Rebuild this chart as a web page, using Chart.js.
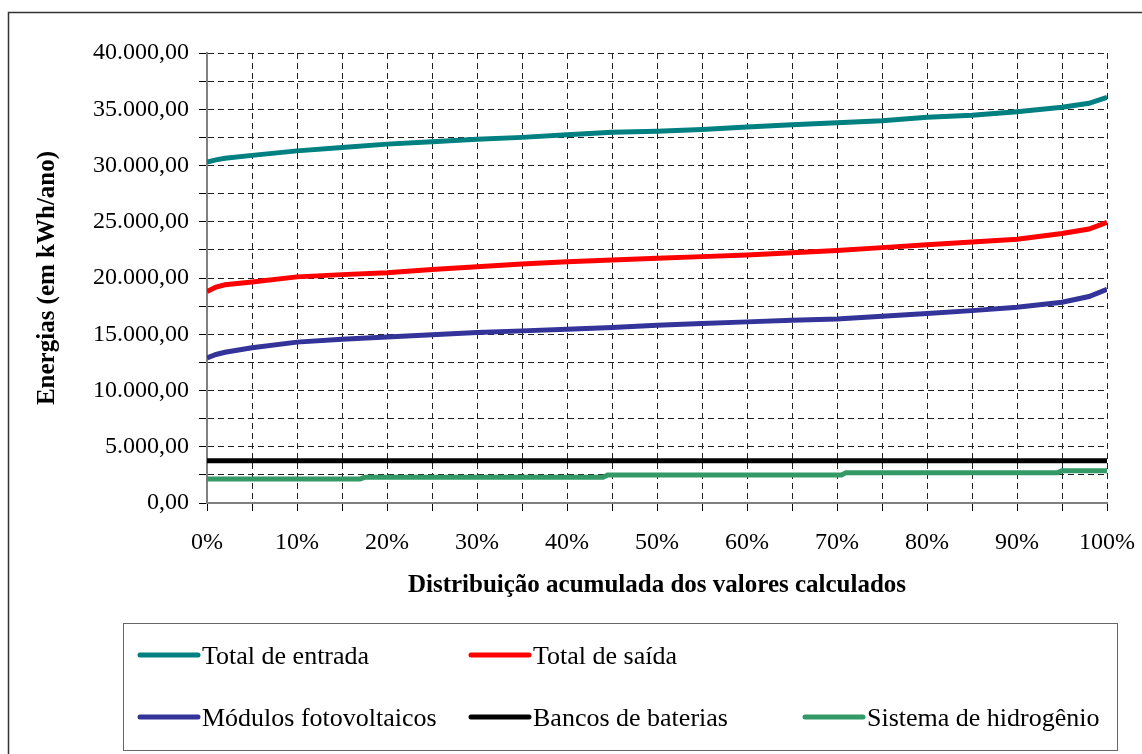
<!DOCTYPE html>
<html lang="pt-BR">
<head>
<meta charset="utf-8">
<title>Distribuição acumulada das energias</title>
<script src="https://cdn.jsdelivr.net/npm/chart.js@4/dist/chart.umd.min.js"></script>
<style>
  html, body { margin: 0; padding: 0; background: #fff; }
  #wrap { position: relative; width: 1142px; height: 754px; }
</style>
</head>
<body>
<div id="wrap"><canvas id="chart" width="1142" height="754"></canvas></div>
<script>
/* ---------- data ---------- */

// cumulative distribution positions (%) used by the three curves
const X_PCT = [0, 1, 2, 5, 10, 15, 20, 25, 30, 35, 40, 45, 50, 55, 60, 65, 70, 75, 80, 85, 90, 95, 98, 100];

const TOTAL_ENTRADA = [30300, 30500, 30650, 30900, 31300, 31600, 31900, 32120, 32330, 32500, 32740, 32950,
  33050, 33200, 33420, 33620, 33800, 33980, 34280, 34460, 34780, 35170, 35530, 36060];
const TOTAL_SAIDA = [18800, 19200, 19400, 19650, 20100, 20300, 20470, 20750, 21000, 21250, 21450, 21600,
  21750, 21900, 22050, 22250, 22450, 22700, 22950, 23200, 23450, 23950, 24350, 24950];
const MODULOS_FV = [12900, 13200, 13400, 13800, 14300, 14550, 14750, 14950, 15150, 15300, 15450, 15600,
  15800, 15950, 16100, 16250, 16350, 16600, 16850, 17100, 17400, 17850, 18350, 19000];

const BATERIAS_X = [0, 100];
const BATERIAS = [3750, 3750];

const HIDROGENIO_X = [0, 17, 17.5, 44, 44.5, 70.5, 71, 94.5, 95, 100];
const HIDROGENIO = [2130, 2130, 2280, 2280, 2490, 2490, 2700, 2700, 2870, 2870];

const SERIES = [
  { label: "Total de entrada", xs: X_PCT, ys: TOTAL_ENTRADA, color: "#008080" },
  { label: "Total de saída", xs: X_PCT, ys: TOTAL_SAIDA, color: "#ff0000" },
  { label: "Módulos fotovoltaicos", xs: X_PCT, ys: MODULOS_FV, color: "#333399" },
  { label: "Bancos de baterias", xs: BATERIAS_X, ys: BATERIAS, color: "#000000" },
  { label: "Sistema de hidrogênio", xs: HIDROGENIO_X, ys: HIDROGENIO, color: "#339966" },
];

const FONT = "'Liberation Serif', 'Times New Roman', serif";

/* ---------- helpers ---------- */

function formatBR(v) {
  const int = Math.round(v).toString().replace(/\B(?=(\d{3})+(?!\d))/g, ".");
  return int + ",00";
}

// legend slots: [series index, line x, row y]
const LEGEND_SLOTS = [
  [0, 140, 655], [1, 471, 655],
  [2, 140, 717], [3, 471, 717], [4, 805, 717],
];

const framePlugin = {
  id: "frame",
  afterDraw(chart) {
    const ctx = chart.ctx;
    ctx.save();
    // outer frame
    ctx.strokeStyle = "#333";
    ctx.lineWidth = 1.5;
    ctx.strokeRect(8.5, 12.5, 1160, 760);
    // legend box
    ctx.strokeStyle = "#666";
    ctx.lineWidth = 1;
    ctx.strokeRect(123.5, 623.5, 994, 127);
    ctx.font = "26px " + FONT;
    ctx.textBaseline = "middle";
    ctx.fillStyle = "#000";
    LEGEND_SLOTS.forEach(([i, x, y]) => {
      const ds = chart.data.datasets[i];
      ctx.strokeStyle = ds.borderColor;
      ctx.lineWidth = 5;
      ctx.lineCap = "round";
      ctx.beginPath();
      ctx.moveTo(x, y);
      ctx.lineTo(x + 58, y);
      ctx.stroke();
      ctx.fillText(ds.label, x + 62, y + 2);
    });
    ctx.restore();
  },
};

/* ---------- chart ---------- */

Chart.defaults.font.family = FONT;
Chart.defaults.font.size = 24;
Chart.defaults.color = "#000";

new Chart(document.getElementById("chart"), {
  type: "line",
  data: {
    datasets: SERIES.map((s) => ({
      label: s.label,
      data: s.xs.map((x, i) => ({ x, y: s.ys[i] })),
      borderColor: s.color,
      backgroundColor: s.color,
      borderWidth: 5,
      pointRadius: 0,
      tension: 0,
      fill: false,
    })),
  },
  options: {
    responsive: false,
    animation: false,
    layout: { padding: { left: 30, top: 53, right: 35, bottom: 151 } },
    plugins: { legend: { display: false }, tooltip: { enabled: false } },
    scales: {
      x: {
        type: "linear",
        min: 0,
        max: 100,
        afterFit: (s) => {
          s.height = 100;
          s.paddingLeft = 0;
          s.paddingRight = 0;
        },
        ticks: {
          stepSize: 5,
          padding: 17,
          maxRotation: 0,
          autoSkip: false,
          callback: (v) => (v % 10 === 0 ? v + "%" : ""),
        },
        grid: { color: "#222", tickColor: "#000", tickLength: 8, lineWidth: 1 },
        border: { color: "#808080", width: 2, dash: [6, 4] },
        title: {
          display: true,
          text: "Distribuição acumulada dos valores calculados",
          font: { size: 25, weight: "bold" },
          padding: { top: 0, bottom: 2 },
        },
      },
      y: {
        min: 0,
        max: 40000,
        afterFit: (s) => { s.width = 177; },
        ticks: {
          stepSize: 2500,
          padding: 10,
          autoSkip: false,
          callback: (v) => (v % 5000 === 0 ? formatBR(v) : ""),
        },
        grid: { color: "#222", tickColor: "#000", tickLength: 8, lineWidth: 1 },
        border: { color: "#808080", width: 2, dash: [6, 4] },
        title: {
          display: true,
          text: "Energias (em kWh/ano)",
          font: { size: 25, weight: "bold" },
          padding: { top: 3, bottom: 0 },
        },
      },
    },
  },
  plugins: [framePlugin],
});
</script>
</body>
</html>
